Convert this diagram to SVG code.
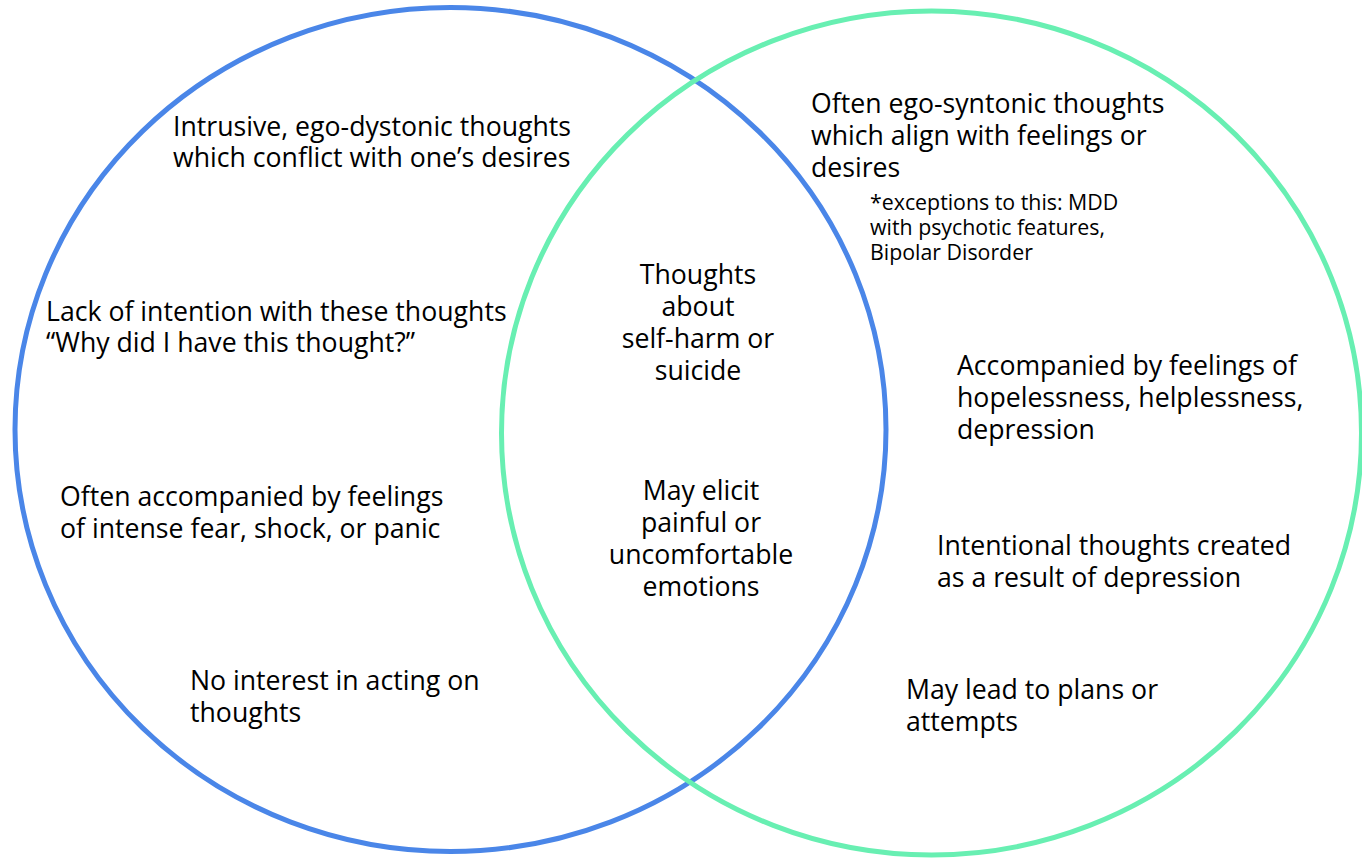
<svg xmlns="http://www.w3.org/2000/svg" width="1362" height="861" viewBox="0 0 1362 861">
<style>
.c{fill:none;stroke-width:5}
.t{font-family:"Open Sans","Noto Sans",sans-serif;font-size:26.67px;fill:#000}
.s{font-family:"Open Sans","Noto Sans",sans-serif;font-size:21.33px;fill:#000}
.m{text-anchor:middle}
</style>
<rect width="1362" height="861" fill="#fff"/>
<g id="circle-left"><ellipse class="c" cx="450.5" cy="429.5" rx="435.5" ry="422" stroke="#4a86e8"/></g>
<g id="circle-right"><ellipse class="c" cx="931.5" cy="433" rx="430" ry="422" stroke="#68efb2"/></g>
<g id="left-1"><text class="t" x="173" y="136">Intrusive, ego-dystonic thoughts<tspan x="173" dy="31">which conflict with one’s desires</tspan></text></g>
<g id="left-2"><text class="t" x="46" y="321">Lack of intention with these thoughts<tspan x="46" dy="31">“Why did I have this thought?”</tspan></text></g>
<g id="left-3"><text class="t" x="60" y="506">Often accompanied by feelings<tspan x="60" dy="32">of intense fear, shock, or panic</tspan></text></g>
<g id="left-4"><text class="t" x="190" y="690">No interest in acting on<tspan x="190" dy="32">thoughts</tspan></text></g>
<g id="center-1"><text class="t m" x="698" y="284">Thoughts<tspan x="698" dy="32">about</tspan><tspan x="698" dy="32">self-harm or</tspan><tspan x="698" dy="32">suicide</tspan></text></g>
<g id="center-2"><text class="t m" x="701" y="500">May elicit<tspan x="701" dy="32">painful or</tspan><tspan x="701" dy="32">uncomfortable</tspan><tspan x="701" dy="32">emotions</tspan></text></g>
<g id="right-1"><text class="t" x="811" y="113">Often ego-syntonic thoughts<tspan x="811" dy="32">which align with feelings or</tspan><tspan x="811" dy="32">desires</tspan></text></g>
<g id="right-note"><text class="s" x="870" y="210">*exceptions to this: MDD<tspan x="870" dy="25">with psychotic features,</tspan><tspan x="870" dy="25">Bipolar Disorder</tspan></text></g>
<g id="right-2"><text class="t" x="957" y="375">Accompanied by feelings of<tspan x="957" dy="32">hopelessness, helplessness,</tspan><tspan x="957" dy="32">depression</tspan></text></g>
<g id="right-3"><text class="t" x="937" y="555">Intentional thoughts created<tspan x="937" dy="32">as a result of depression</tspan></text></g>
<g id="right-4"><text class="t" x="906" y="699">May lead to plans or<tspan x="906" dy="32">attempts</tspan></text></g>
</svg>
